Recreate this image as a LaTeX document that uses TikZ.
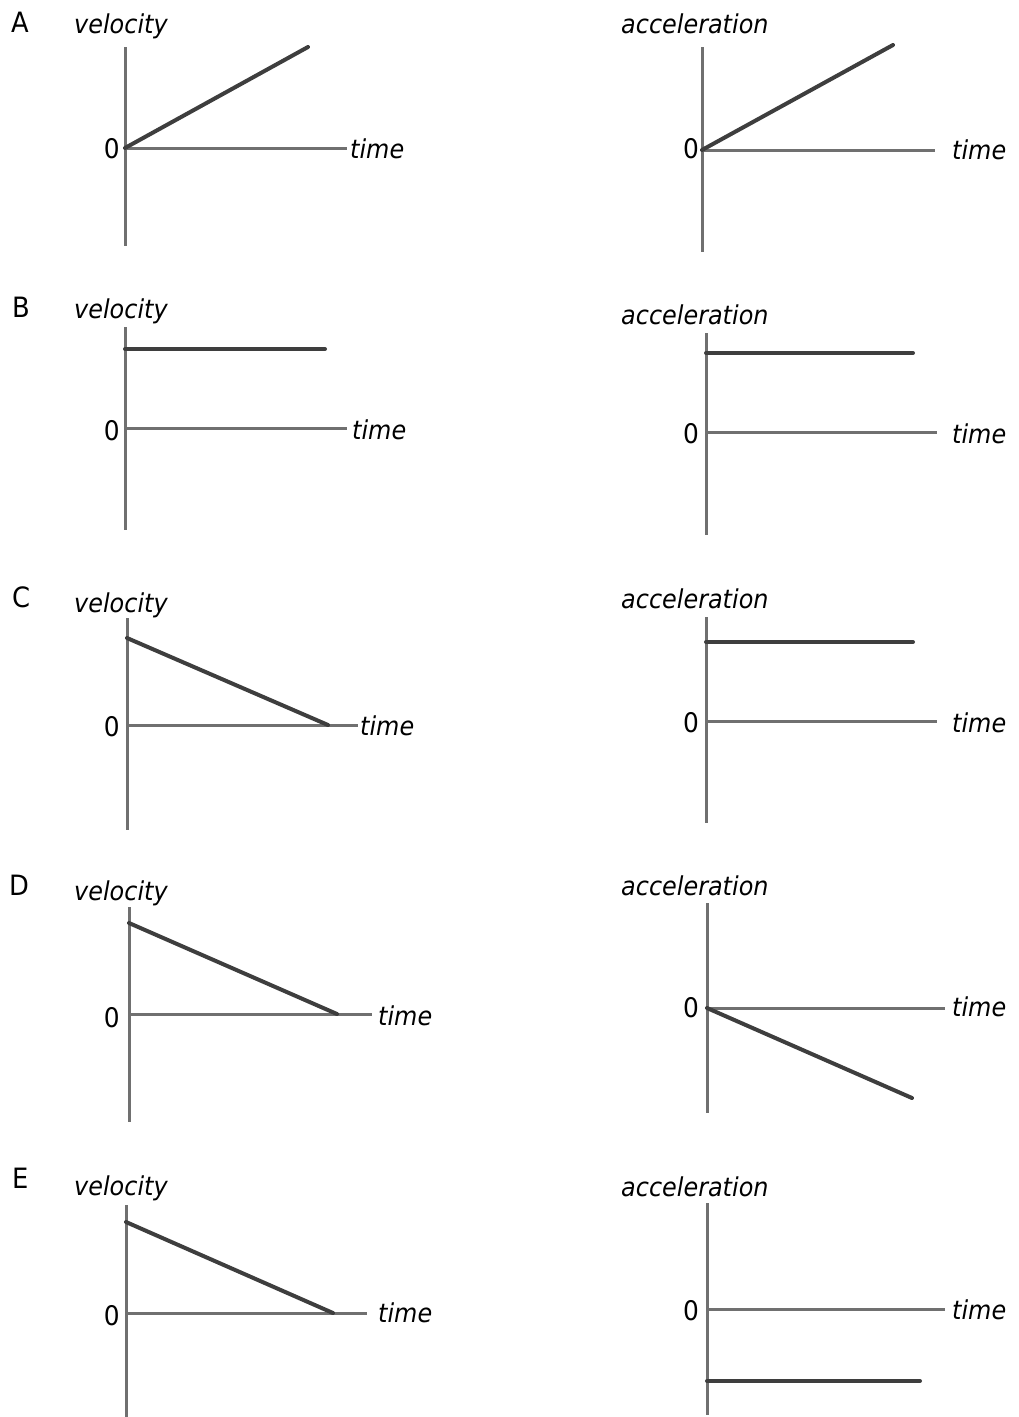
\documentclass[tikz,border=0pt]{standalone}
\usepackage{fontspec}
\setmainfont[FakeStretch=0.92]{DejaVu Sans}
\definecolor{axgray}{RGB}{112,112,112}
\definecolor{lngray}{RGB}{62,62,62}
\begin{document}
\begin{tikzpicture}[x=1pt,y=-1pt,
  axis/.style={draw=axgray, line width=3pt},
  graph/.style={draw=lngray, line width=4pt, line cap=round},
  ttl/.style={font=\fontsize{26}{30}\selectfont\itshape, inner sep=0pt, anchor=base west},
  tlab/.style={font=\fontsize{26}{30}\selectfont\itshape, inner sep=0pt, anchor=base west},
  zlab/.style={font=\fontsize{27}{31}\selectfont, inner sep=0pt, anchor=base east},
  letter/.style={font=\fontsize{28}{32}\selectfont, inner sep=0pt, anchor=base west}]
\useasboundingbox (0,0) rectangle (1019,1417);

% ---------- A ----------
\node[letter] (Alet) at (11,32) {A};
\node[ttl] (Avel) at (74,33) {velocity};
\coordinate (AvT) at (125,47); \coordinate (AvB) at (125,246);
\coordinate (AhL) at (125,148); \coordinate (AhR) at (347,148);
\coordinate (AdE) at (308,47);
\draw[axis] (AvT) -- (AvB); \draw[axis] (AhL) -- (AhR);
\draw[graph] (AhL) -- (AdE);
\node[zlab] (Azero) at (120,158) {0};
\node[tlab] (Atime) at (350,158) {time};

\node[ttl] (Aacc) at (621,33) {acceleration};
\coordinate (AavT) at (702,47); \coordinate (AavB) at (702,252);
\coordinate (AahL) at (702,150); \coordinate (AahR) at (935,150);
\coordinate (AadE) at (893,45);
\draw[axis] (AavT) -- (AavB); \draw[axis] (AahL) -- (AahR);
\draw[graph] (AahL) -- (AadE);
\node[zlab] (Aazero) at (699,158) {0};
\node[tlab] (Aatime) at (952,159) {time};

% ---------- B ----------
\node[letter] (Blet) at (12,317) {B};
\node[ttl] (Bvel) at (74,318) {velocity};
\coordinate (BvT) at (125,327); \coordinate (BvB) at (125,530);
\coordinate (BhL) at (125,428); \coordinate (BhR) at (347,428);
\coordinate (BcL) at (125,349); \coordinate (BcR) at (325,349);
\draw[axis] (BvT) -- (BvB); \draw[axis] (BhL) -- (BhR);
\draw[graph] (BcL) -- (BcR);
\node[zlab] (Bzero) at (120,440) {0};
\node[tlab] (Btime) at (352,439) {time};

\node[ttl] (Bacc) at (621,324) {acceleration};
\coordinate (BavT) at (706,333); \coordinate (BavB) at (706,535);
\coordinate (BahL) at (706,432); \coordinate (BahR) at (937,432);
\coordinate (BacL) at (706,353); \coordinate (BacR) at (913,353);
\draw[axis] (BavT) -- (BavB); \draw[axis] (BahL) -- (BahR);
\draw[graph] (BacL) -- (BacR);
\node[zlab] (Bazero) at (699,443) {0};
\node[tlab] (Batime) at (952,443) {time};

% ---------- C ----------
\node[letter] (Clet) at (12,607) {C};
\node[ttl] (Cvel) at (74,612) {velocity};
\coordinate (CvT) at (127,618); \coordinate (CvB) at (127,830);
\coordinate (ChL) at (127,725); \coordinate (ChR) at (358,725);
\coordinate (CdS) at (127,638); \coordinate (CdE) at (328,725);
\draw[axis] (CvT) -- (CvB); \draw[axis] (ChL) -- (ChR);
\draw[graph] (CdS) -- (CdE);
\node[zlab] (Czero) at (120,736) {0};
\node[tlab] (Ctime) at (360,735) {time};

\node[ttl] (Cacc) at (621,608) {acceleration};
\coordinate (CavT) at (706,617); \coordinate (CavB) at (706,823);
\coordinate (CahL) at (706,721); \coordinate (CahR) at (937,721);
\coordinate (CacL) at (706,642); \coordinate (CacR) at (913,642);
\draw[axis] (CavT) -- (CavB); \draw[axis] (CahL) -- (CahR);
\draw[graph] (CacL) -- (CacR);
\node[zlab] (Cazero) at (699,732) {0};
\node[tlab] (Catime) at (952,732) {time};

% ---------- D ----------
\node[letter] (Dlet) at (9,895) {D};
\node[ttl] (Dvel) at (74,900) {velocity};
\coordinate (DvT) at (129,907); \coordinate (DvB) at (129,1122);
\coordinate (DhL) at (129,1014); \coordinate (DhR) at (372,1014);
\coordinate (DdS) at (129,923); \coordinate (DdE) at (337,1014);
\draw[axis] (DvT) -- (DvB); \draw[axis] (DhL) -- (DhR);
\draw[graph] (DdS) -- (DdE);
\node[zlab] (Dzero) at (120,1027) {0};
\node[tlab] (Dtime) at (378,1025) {time};

\node[ttl] (Dacc) at (621,895) {acceleration};
\coordinate (DavT) at (707,903); \coordinate (DavB) at (707,1113);
\coordinate (DahL) at (707,1008); \coordinate (DahR) at (945,1008);
\coordinate (DadE) at (912,1098);
\draw[axis] (DavT) -- (DavB); \draw[axis] (DahL) -- (DahR);
\draw[graph] (DahL) -- (DadE);
\node[zlab] (Dazero) at (699,1017) {0};
\node[tlab] (Datime) at (952,1016) {time};

% ---------- E ----------
\node[letter] (Elet) at (12,1188) {E};
\node[ttl] (Evel) at (74,1195) {velocity};
\coordinate (EvT) at (126,1205); \coordinate (EvB) at (126,1417);
\coordinate (EhL) at (126,1313); \coordinate (EhR) at (367,1313);
\coordinate (EdS) at (126,1222); \coordinate (EdE) at (333,1313);
\draw[axis] (EvT) -- (EvB); \draw[axis] (EhL) -- (EhR);
\draw[graph] (EdS) -- (EdE);
\node[zlab] (Ezero) at (120,1325) {0};
\node[tlab] (Etime) at (378,1322) {time};

\node[ttl] (Eacc) at (621,1196) {acceleration};
\coordinate (EavT) at (707,1203); \coordinate (EavB) at (707,1415);
\coordinate (EahL) at (707,1309); \coordinate (EahR) at (945,1309);
\coordinate (EacL) at (707,1381); \coordinate (EacR) at (920,1381);
\draw[axis] (EavT) -- (EavB); \draw[axis] (EahL) -- (EahR);
\draw[graph] (EacL) -- (EacR);
\node[zlab] (Eazero) at (699,1320) {0};
\node[tlab] (Eatime) at (952,1319) {time};
\end{tikzpicture}
\end{document}
